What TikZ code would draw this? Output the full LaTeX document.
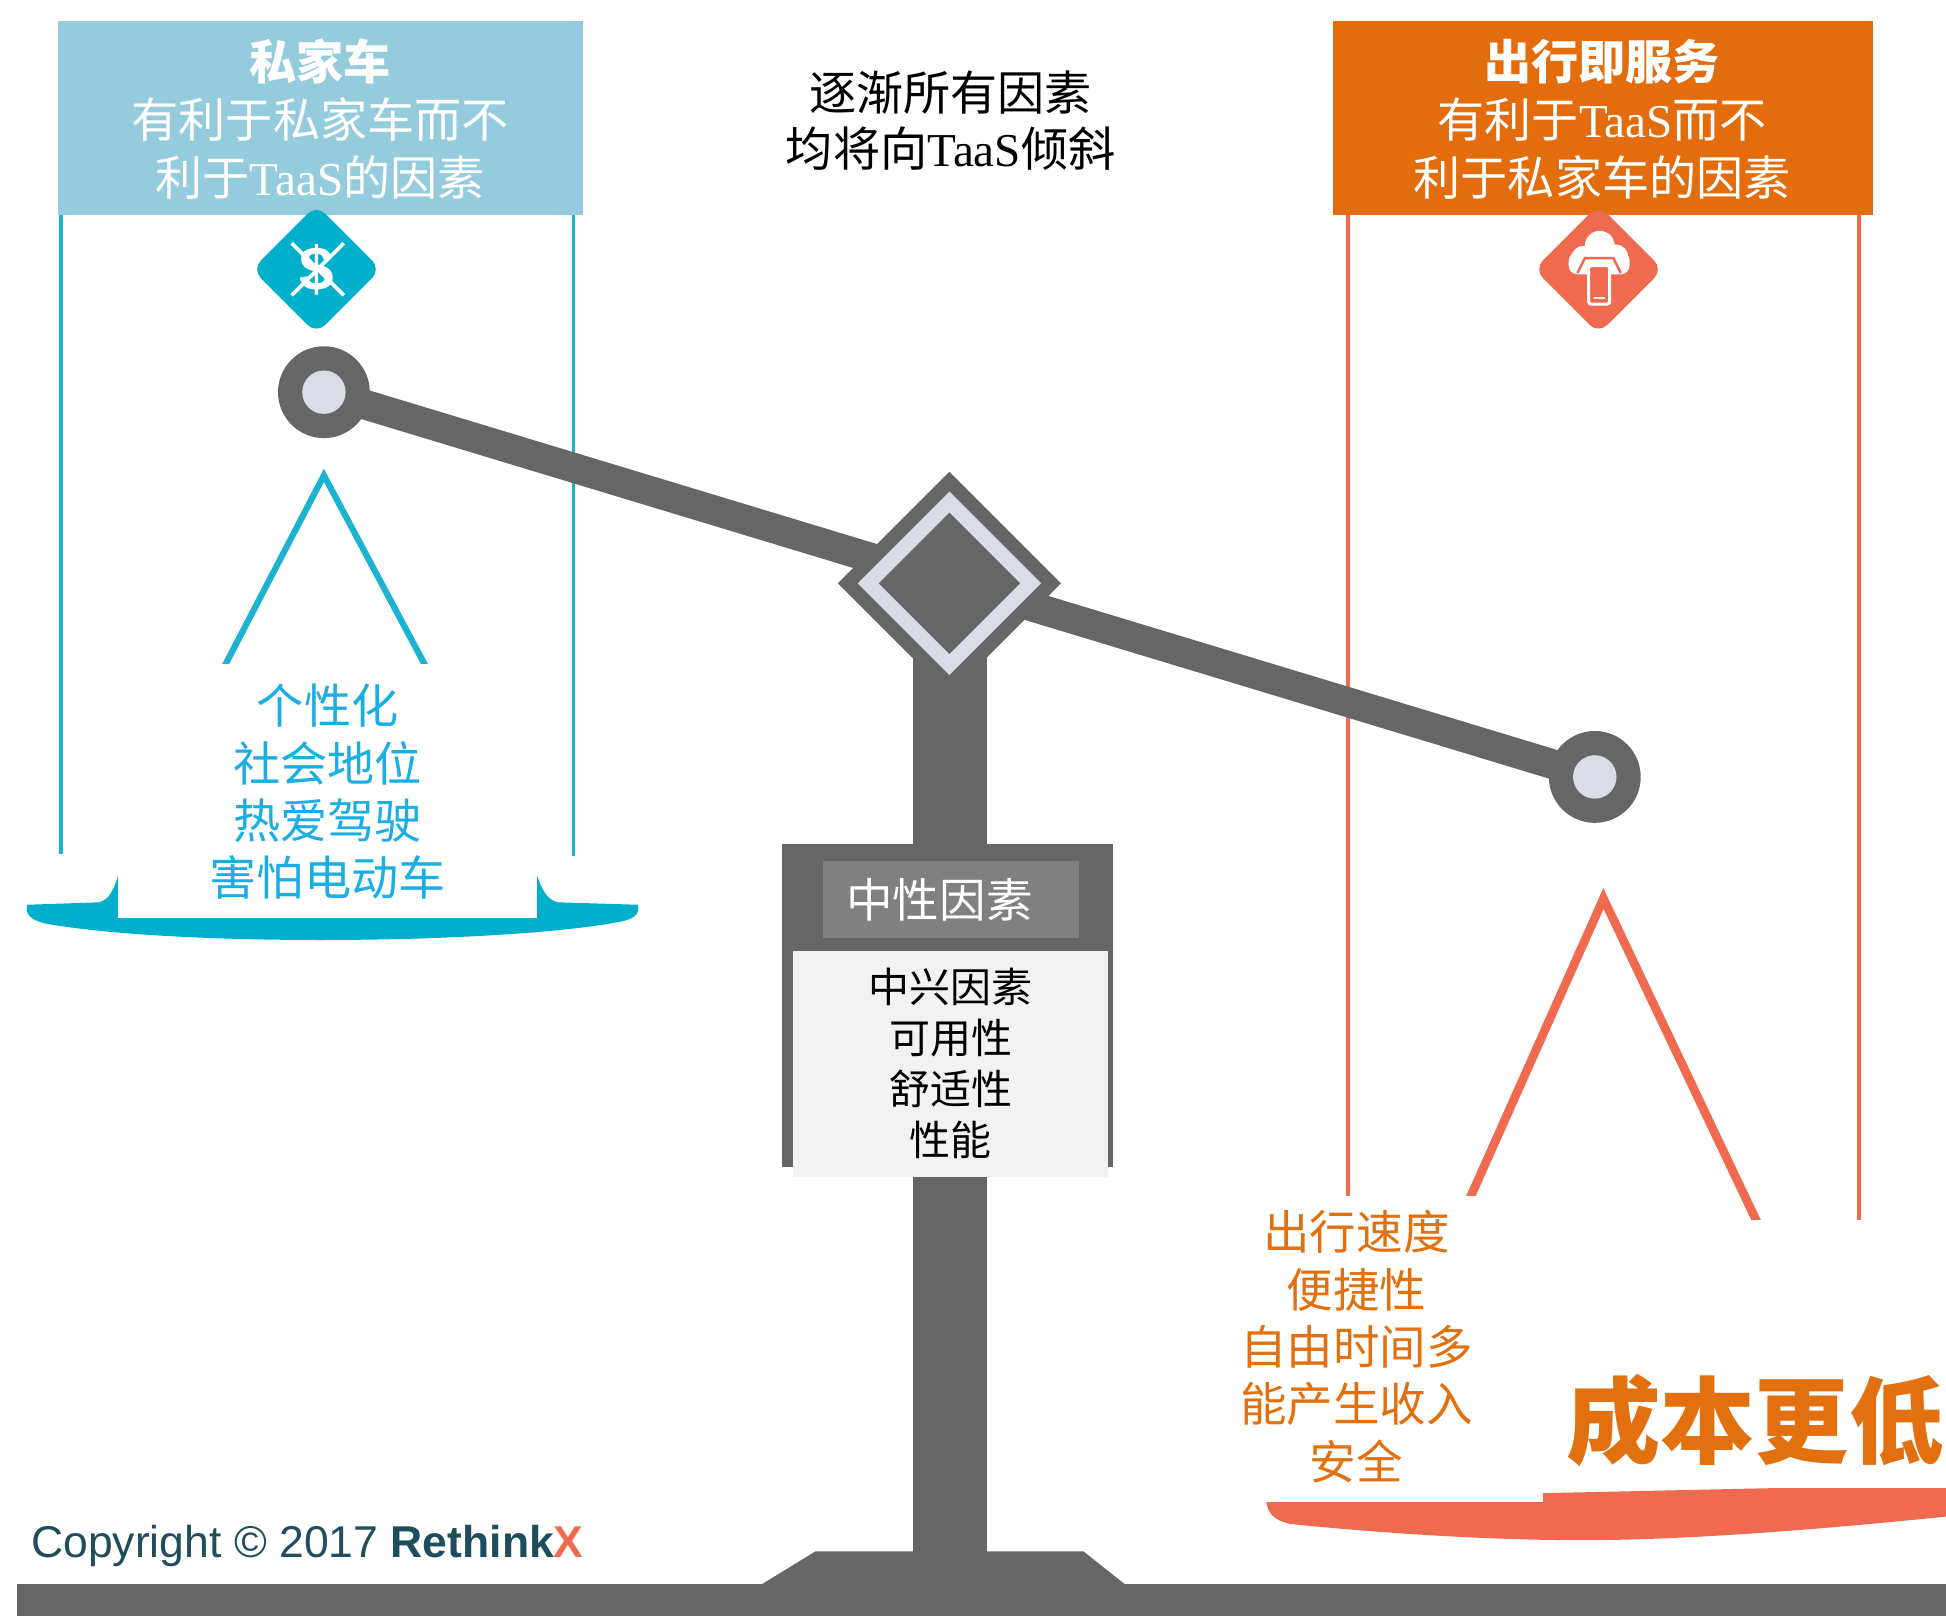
\documentclass[tikz,border=0pt]{standalone}
\usepackage{fontspec}
\setmainfont{Noto Sans CJK SC}
\newfontfamily\serifl{Liberation Serif}
\newfontfamily\sansl{Liberation Sans}
\usetikzlibrary{shapes.geometric}

\definecolor{hdrblue}{HTML}{95CCDD}
\definecolor{cyanline}{HTML}{1CB2D2}
\definecolor{cyanpan}{HTML}{00AFCB}
\definecolor{bluetext}{HTML}{1BAEE4}
\definecolor{hdrorange}{HTML}{E36C0D}
\definecolor{salmon}{HTML}{F06A50}
\definecolor{orangetext}{HTML}{E2700F}
\definecolor{beamgray}{HTML}{666666}
\definecolor{pale}{HTML}{DADCE6}
\definecolor{midgray}{HTML}{808080}
\definecolor{bodygray}{HTML}{F2F2F2}
\definecolor{logoteal}{HTML}{1E4D5C}

\newcommand\fs[2]{\fontsize{#1}{#2}\selectfont}
\newcommand\taas{{\serifl TaaS}}

\begin{document}
\begin{tikzpicture}[x=1pt,y=-1pt,
  txt/.style={inner sep=0pt, align=center},
  panel/.style={inner sep=0pt, outer sep=0pt, anchor=north west},
  pivot/.style={circle, fill=beamgray, minimum size=74, inner sep=0pt},
  pivothole/.style={circle, fill=pale, minimum size=35, inner sep=0pt},
  badge/.style={diamond, minimum size=104, inner sep=0pt, rounded corners=10},
  wire/.style={line width=3pt},
]
\useasboundingbox (0,0) rectangle (1568,1302);

% ---------- header panels ----------
\node[panel, fill=hdrblue, minimum width=423, minimum height=156] (lhead) at (47,17) {};
\node[txt, text=white, font=\fs{38}{46.5}] (ltitle) at (258,96)
  {{\bfseries 私家车}\\有利于私家车而不\\利于\taas 的因素};

\node[panel, fill=hdrorange, minimum width=435, minimum height=156] (rhead) at (1074,17) {};
\node[txt, text=white, font=\fs{38}{46.5}] (rtitle) at (1291,96)
  {{\bfseries 出行即服务}\\有利于\taas 而不\\利于私家车的因素};

\node[txt, font=\fs{38}{45}] (trend) at (766,97) {逐渐所有因素\\均将向\taas 倾斜};

% ---------- hanging wires ----------
\draw[cyanline, wire] (49,173) -- (49,688);
\draw[cyanline, wire] (462,173) -- (462,690);
\draw[salmon, wire] (1086,173) -- (1086,1000);
\draw[salmon, wire] (1498,173) -- (1498,1000);

\coordinate (lapex) at (261,383);
\coordinate (rapex) at (1292,724);
\draw[cyanline, line width=5pt] (174,550) -- (lapex) -- (350,550);
\draw[salmon, line width=7pt] (1169,1000) -- (rapex) -- (1423,1000);

% ---------- pans ----------
\fill[cyanpan] (22,729) -- (80,727) .. controls (88,725) and (92,716) .. (95,706)
  -- (433,706) .. controls (436,716) and (441,725) .. (449,727) -- (514,729)
  .. controls (516,737) and (510,741) .. (498,743)
  .. controls (400,761) and (140,763) .. (36,744)
  .. controls (24,741) and (20,736) .. (22,729) -- cycle;
\fill[salmon] (1020,1208) -- (1568,1196) -- (1568,1222)
  .. controls (1450,1234) and (1350,1241) .. (1275,1241)
  .. controls (1190,1241) and (1100,1234) .. (1040,1228)
  .. controls (1026,1225) and (1021,1219) .. (1020,1208) -- cycle;

% white label cards on the pans
\node[panel, fill=white, minimum width=338, minimum height=205] (lcard) at (95,535) {};
\node[panel, fill=white, minimum width=243, minimum height=246] (rcard) at (1000,964) {};
\node[panel, fill=white, minimum width=325, minimum height=216] (ccard) at (1243,983) {};

% ---------- stand ----------
\fill[beamgray] (736,500) rectangle (795,1277);
\fill[beamgray] (613,1277) -- (657,1250) -- (873,1250) -- (907,1277) -- cycle;
\fill[beamgray] (14,1276) rectangle (1568,1302);

% ---------- beam ----------
\coordinate (lp) at (261,316);
\coordinate (rp) at (1285,626);
\draw[beamgray, line width=24pt] (lp) -- (rp);
\node[pivot] (lpivot) at (lp) {};
\node[pivothole] (lhole) at (lp) {};
\node[pivot] (rpivot) at (rp) {};
\node[pivothole] (rhole) at (rp) {};

\node[diamond, fill=beamgray, minimum size=180, inner sep=0pt] (fulcrum) at (765,470) {};
\node[diamond, fill=pale, minimum size=148, inner sep=0pt] (fring) at (fulcrum) {};
\node[diamond, fill=beamgray, minimum size=114, inner sep=0pt] (fcore) at (fulcrum) {};

% ---------- neutral sign ----------
\node[panel, fill=beamgray, minimum width=267, minimum height=260] (nbox) at (630,680) {};
\node[panel, fill=midgray, minimum width=206, minimum height=62] (nhead) at (663,694) {};
\node[txt, text=white, font=\fs{37.5}{40}] (ntitle) at (757,725) {中性因素};
\node[panel, fill=bodygray, minimum width=254, minimum height=182] (nbody) at (639,766) {};
\node[txt, font=\fs{33}{41}] (nlist) at (766,857) {中兴因素\\可用性\\舒适性\\性能};

% ---------- pan labels ----------
\node[txt, text=bluetext, font=\fs{38}{46.3}] (llist) at (264,638)
  {个性化\\社会地位\\热爱驾驶\\害怕电动车};
\node[txt, text=orangetext, font=\fs{37.5}{46.25}] (rlist) at (1093,1085)
  {出行速度\\便捷性\\自由时间多\\能产生收入\\安全};
\node[txt, text=orangetext, font=\bfseries\fs{76}{80}] (cost) at (1414,1145) {成本更低};

% ---------- badges ----------
\node[badge, fill=cyanpan] (licon) at (255,217) {};
\node[inner sep=0pt, text=white, font=\sansl\bfseries\fs{50}{50}] (dollar) at (licon) {\$};
\draw[white, line width=3pt] (235,196) -- (277,238);
\draw[white, line width=3pt] (277,196) -- (235,238);

\node[badge, fill=salmon] (ricon) at (1288,217) {};
\fill[white] (1276,208) circle (10) (1289,198) circle (12) (1302,207) circle (10);
\fill[white, rounded corners=7] (1264,203) rectangle (1313,221);
\draw[salmon, line width=2pt] (1271,220) -- (1277,208) -- (1300,208) -- (1306,220);
\filldraw[fill=salmon, draw=white, line width=2.5pt, rounded corners=2] (1280,214) rectangle (1297,245);
\draw[white, line width=1.5pt] (1284,240) -- (1293,240);

% ---------- credit line ----------
\node[anchor=base west, inner sep=0pt, text=logoteal] (credit) at (25,1255)
  {\resizebox{445pt}{!}{\sansl Copyright \textcopyright{} 2017 {\bfseries Rethink\textcolor{salmon}{X}}}};
\end{tikzpicture}
\end{document}
